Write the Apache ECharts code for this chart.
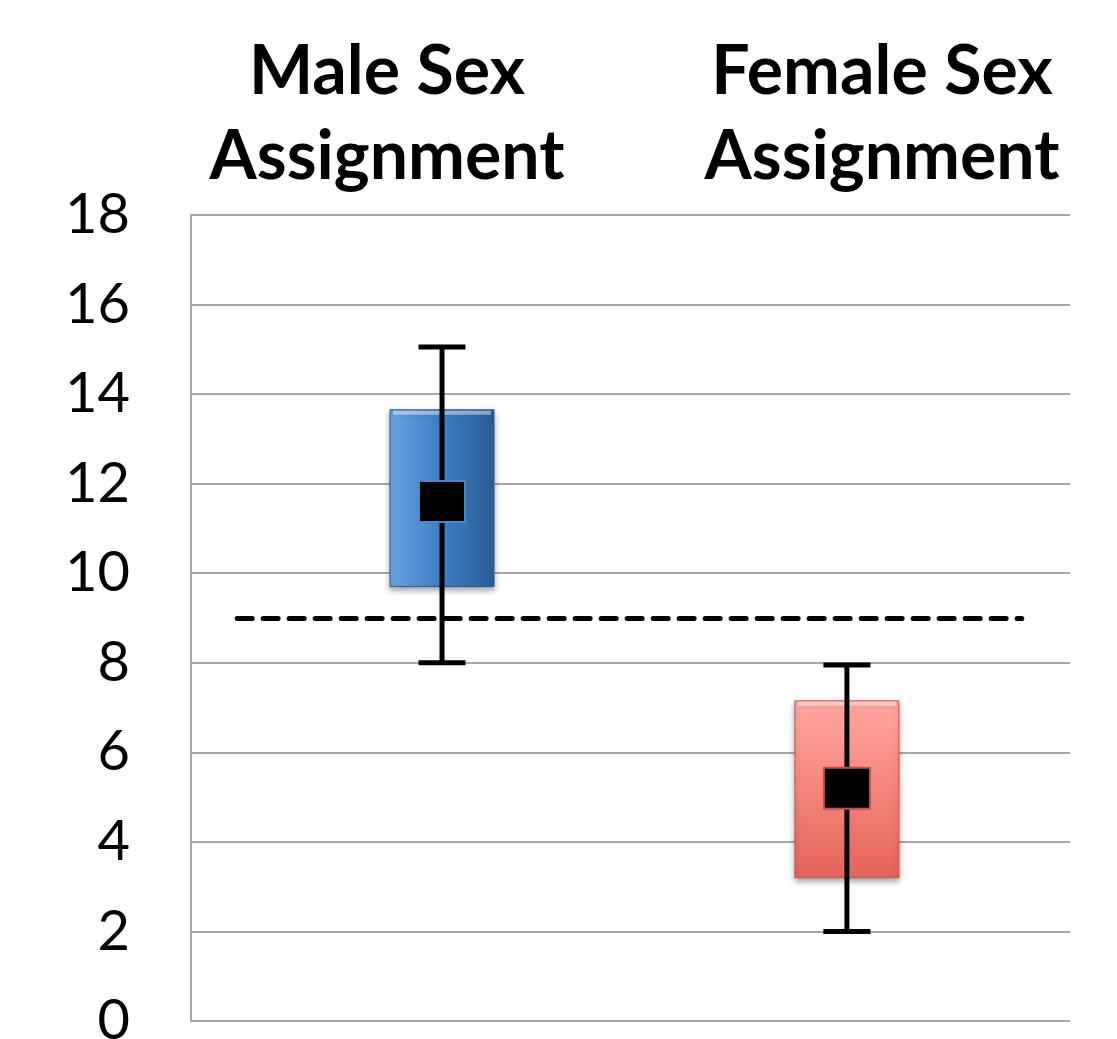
<!DOCTYPE html>
<html>
<head>
<meta charset="utf-8">
<title>Sex assignment</title>
<script src="https://cdn.jsdelivr.net/npm/echarts@6/dist/echarts.min.js"></script>
<style>
  html, body { margin: 0; padding: 0; background: #ffffff; }
  #chart { width: 1117px; height: 1039px; }
</style>
</head>
<body>
<div id="chart"></div>
<script>
// groups, in the order drawn left to right
var groups = ['Male Sex\nAssignment', 'Female Sex\nAssignment'];
// whisker low, box low, middle, box high, whisker high
var lows     = [8.0, 2.0];
var boxLows  = [9.7, 3.2];
var middles  = [11.6, 5.2];
var boxHighs = [13.65, 7.15];
var highs    = [15.05, 7.95];
// dashed cut-off line
var cutoff = [9];
var yTicks = [0, 2, 4, 6, 8, 10, 12, 14, 16, 18];

var boxColors = [
    { a: '#66a3e0', b: '#3a7fc4', c: '#2b5e96', edge: '#2a5d92', mid: '#4f86c6' },
    { a: '#ffa7a1', b: '#f5857c', c: '#e2645a', edge: '#c65850', mid: '#c0504d' }
];

var data = [];
for (var i = 0; i < groups.length; i++) {
    data.push([i, lows[i], boxLows[i], middles[i], boxHighs[i], highs[i]]);
}

function renderBox(params, api) {
    var x = api.value(0);
    var pLow = api.coord([x, api.value(1)]);
    var pQ1 = api.coord([x, api.value(2)]);
    var pMed = api.coord([x, api.value(3)]);
    var pQ3 = api.coord([x, api.value(4)]);
    var pHigh = api.coord([x, api.value(5)]);
    var cx = pMed[0];
    var c = boxColors[params.dataIndex];
    var boxW = 104, capW = 47, medW = 46, medH = 41;
    var fill = params.dataIndex === 0 ?
        new echarts.graphic.LinearGradient(0, 0, 1, 0, [
            { offset: 0, color: c.a }, { offset: 0.5, color: c.b }, { offset: 1, color: c.c }]) :
        new echarts.graphic.LinearGradient(0, 0, 0, 1, [
            { offset: 0, color: c.a }, { offset: 0.5, color: c.b }, { offset: 1, color: c.c }]);
    var boxTop = pQ3[1], boxH = pQ1[1] - pQ3[1];
    return {
        type: 'group',
        children: [
            {
                type: 'rect',
                shape: { x: cx - boxW / 2, y: boxTop, width: boxW, height: boxH },
                style: {
                    fill: fill, stroke: c.edge, lineWidth: 1,
                    shadowBlur: 6, shadowOffsetY: 3, shadowColor: 'rgba(0,0,0,0.35)'
                }
            },
            {
                // light bevel along the top
                type: 'line',
                shape: { x1: cx - boxW / 2 + 3, y1: boxTop + 3, x2: cx + boxW / 2 - 3, y2: boxTop + 3 },
                style: { stroke: 'rgba(255,255,255,0.45)', lineWidth: 4 }
            },
            {
                type: 'line',
                shape: { x1: cx, y1: pHigh[1], x2: cx, y2: pLow[1] },
                style: { stroke: '#000000', lineWidth: 5 }
            },
            {
                type: 'line',
                shape: { x1: cx - capW / 2, y1: pHigh[1], x2: cx + capW / 2, y2: pHigh[1] },
                style: { stroke: '#000000', lineWidth: 5 }
            },
            {
                type: 'line',
                shape: { x1: cx - capW / 2, y1: pLow[1], x2: cx + capW / 2, y2: pLow[1] },
                style: { stroke: '#000000', lineWidth: 5 }
            },
            {
                type: 'rect',
                shape: { x: cx - medW / 2, y: pMed[1] - medH / 2, width: medW, height: medH },
                style: { fill: '#000000', stroke: c.mid, lineWidth: 2 }
            }
        ]
    };
}

var chart = echarts.init(document.getElementById('chart'));

var option = {
    animation: false,
    backgroundColor: '#ffffff',
    grid: { left: 191, right: 47, top: 215, bottom: 18, outerBoundsMode: 'none', containLabel: false },
    xAxis: {
        type: 'value',
        // box 0 sits at x=442px, box 1 at x=847px
        min: -0.62,
        max: 1.551,
        show: false
    },
    yAxis: {
        type: 'value',
        min: yTicks[0],
        max: yTicks[yTicks.length - 1],
        interval: 2,
        axisLine: { show: true, onZero: false, lineStyle: { color: '#a6a6a6', width: 2 } },
        axisTick: { show: false },
        axisLabel: {
            margin: 61,
            fontSize: 56,
            fontFamily: 'Lato',
            color: '#000000',
            padding: [12, 0, 0, 0]
        },
        splitLine: { show: true, lineStyle: { color: '#a6a6a6', width: 2 } }
    },
    graphic: [
        {
            type: 'text', x: 387, y: 30,
            style: {
                text: groups[0], fill: '#000000', font: 'bold 68px Lato',
                textAlign: 'center', lineHeight: 85
            }
        },
        {
            type: 'text', x: 882, y: 30,
            style: {
                text: groups[1], fill: '#000000', font: 'bold 68px Lato',
                textAlign: 'center', lineHeight: 85
            }
        }
    ],
    series: [{
        type: 'custom',
        renderItem: renderBox,
        encode: { x: 0, y: [1, 2, 3, 4, 5] },
        data: data,
        z: 3,
        markLine: {
            silent: true,
            symbol: ['none', 'none'],
            label: { show: false },
            lineStyle: { color: '#000000', width: 5, type: [15, 11], cap: 'round' },
            data: [[{ coord: [-0.506, cutoff[0]] }, { coord: [1.432, cutoff[0]] }]]
        }
    }]
};

chart.setOption(option);
</script>
</body>
</html>
